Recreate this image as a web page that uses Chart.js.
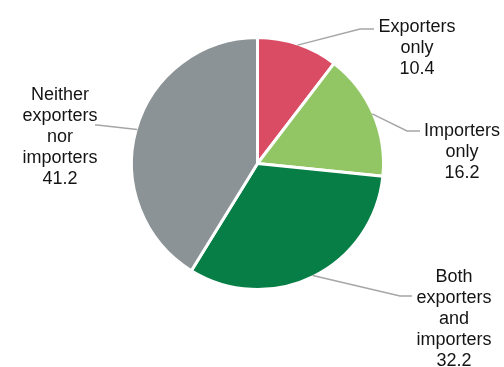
<!DOCTYPE html>
<html>
<head>
<meta charset="utf-8">
<script src="https://cdn.jsdelivr.net/npm/chart.js@4/dist/chart.umd.min.js"></script>
<style>
  html, body { margin: 0; padding: 0; background: #ffffff; }
  #wrap { width: 504px; height: 367px; }
</style>
</head>
<body>
<div id="wrap"><canvas id="c" width="504" height="367"></canvas></div>
<script>
// ---- data ----
const categories = ["Exporters only", "Importers only", "Both exporters and importers", "Neither exporters nor importers"];
const labelLines = [
  ["Exporters", "only"],
  ["Importers", "only"],
  ["Both", "exporters", "and", "importers"],
  ["Neither", "exporters", "nor", "importers"]
];
const shares = [10.4, 16.2, 32.2, 41.2];
const sliceColors = ["#DA4B64", "#92C664", "#067E46", "#8C9396"];

// ---- label layout (annotation positions) ----
const labelLayout = [
  { x: 417, y: 32,  elbow: [360, 29], end: [374, 29] },
  { x: 462, y: 136, elbow: [407, 131], end: [420, 131] },
  { x: 454, y: 282, elbow: [400, 296], end: [412, 296] },
  { x: 60,  y: 100, elbow: [97, 125], end: [95, 125] }
];
const lineStep = 21;

const leaderLabels = {
  id: 'leaderLabels',
  afterDatasetsDraw(chart) {
    const ctx = chart.ctx;
    const meta = chart.getDatasetMeta(0);
    ctx.save();
    meta.data.forEach((arc, i) => {
      const p = arc.getProps(['x', 'y', 'startAngle', 'endAngle', 'outerRadius'], true);
      const mid = (p.startAngle + p.endAngle) / 2;
      const sx = p.x + Math.cos(mid) * (p.outerRadius - 1);
      const sy = p.y + Math.sin(mid) * (p.outerRadius - 1);
      const L = labelLayout[i];
      ctx.strokeStyle = '#A6A6A6';
      ctx.lineWidth = 1.5;
      ctx.beginPath();
      ctx.moveTo(sx, sy);
      ctx.lineTo(L.elbow[0], L.elbow[1]);
      ctx.lineTo(L.end[0], L.end[1]);
      ctx.stroke();

      ctx.fillStyle = '#141414';
      ctx.font = '18px "Liberation Sans", Arial, sans-serif';
      ctx.textAlign = 'center';
      ctx.textBaseline = 'alphabetic';
      const lines = labelLines[i].concat([shares[i].toFixed(1)]);
      lines.forEach((t, k) => ctx.fillText(t, L.x, L.y + k * lineStep));
    });
    ctx.restore();
  }
};

new Chart(document.getElementById('c'), {
  type: 'pie',
  data: {
    labels: categories,
    datasets: [{
      data: shares,
      backgroundColor: sliceColors,
      borderColor: '#ffffff',
      borderWidth: 3,
      hoverBorderWidth: 3
    }]
  },
  options: {
    responsive: false,
    animation: false,
    layout: { padding: { left: 130, right: 119, top: 36, bottom: 76 } },
    plugins: { legend: { display: false }, tooltip: { enabled: false } }
  },
  plugins: [leaderLabels]
});
</script>
</body>
</html>
